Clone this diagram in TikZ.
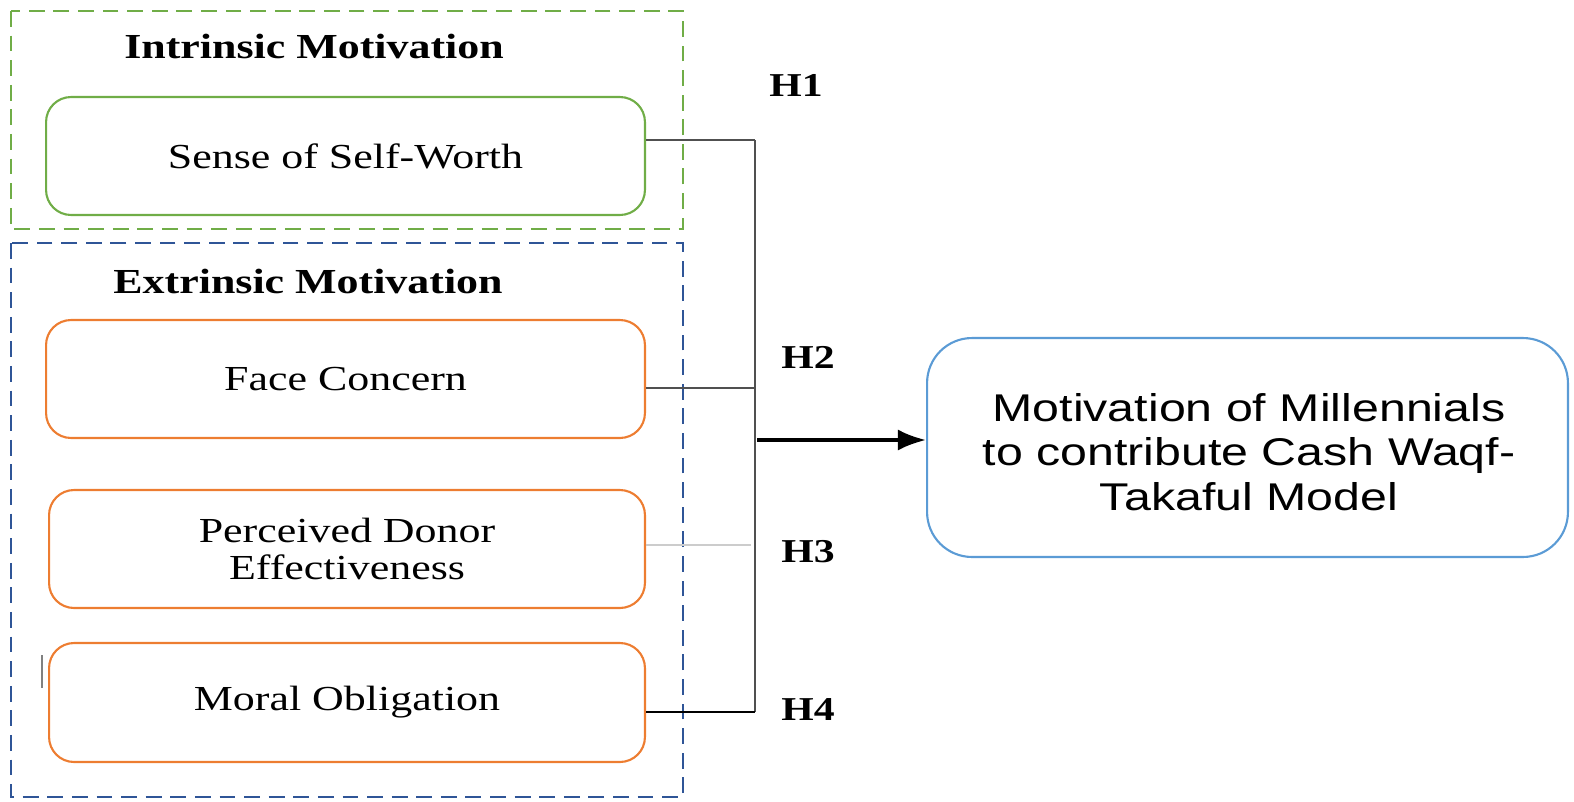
\documentclass[tikz,border=0pt]{standalone}
\usepackage{fontspec}
\setmainfont{Liberation Serif}[FakeStretch=1.25]
\newfontfamily\sansf{Liberation Sans}[FakeStretch=1.25]
\usetikzlibrary{arrows.meta}
\definecolor{cgreen}{HTML}{70AD47}
\definecolor{corange}{HTML}{ED7D31}
\definecolor{cdblue}{HTML}{2F5597}
\definecolor{clblue}{HTML}{5B9BD5}
\definecolor{cline}{HTML}{505050}
\begin{document}
\begin{tikzpicture}[x=0.02cm,y=-0.02cm,
  factor/.style={draw=corange,line width=1.2pt,rounded corners=0.5cm,
    minimum width=11.98cm,minimum height=2.36cm,align=center,inner sep=0pt,
    font=\fontsize{20}{21.5}\selectfont},
  groupbox/.style={line width=1.1pt,dash pattern=on 9pt off 5pt},
  grouptitle/.style={font=\fontsize{20}{24}\selectfont\bfseries},
  hlabel/.style={font=\fontsize{19}{22}\selectfont\bfseries},
  conn/.style={draw=cline,line width=0.8pt}]
\useasboundingbox (0,0) rectangle (1574,801);
% group frames
\draw[groupbox,draw=cgreen] (11,11) rectangle (683,229);
\draw[groupbox,draw=cdblue] (11,243) rectangle (683,797);
\node[grouptitle] (tin) at (314,46) {Intrinsic Motivation};
\node[grouptitle] (tex) at (308,281) {Extrinsic Motivation};
% factor boxes
\node[factor,draw=cgreen] (ssw) at (345.5,156) {Sense of Self-Worth};
\node[factor] (fc) at (345.5,379) {Face Concern};
\node[factor,minimum width=11.92cm] (pde) at (347,549) {Perceived Donor\\Effectiveness};
\node[factor,minimum width=11.92cm,minimum height=2.38cm] (mo) at (347,702.5) {Moral Obligation};
% target
\node[draw=clblue,line width=1.2pt,rounded corners=0.9cm,minimum width=12.82cm,
  minimum height=4.38cm,inner sep=0pt] (tg) at (1247.5,447.5) {};
\node[align=center,inner sep=0pt,font=\sansf\fontsize{22}{25.5}\selectfont] (tgt) at (1249,452)
  {Motivation of Millennials\\to contribute Cash Waqf-\\Takaful Model};
% junction coordinates
\coordinate (j1) at (755,140);
\coordinate (j2) at (755,388);
\coordinate (j3) at (751,545);
\coordinate (j4) at (755,712);
\coordinate (ar) at (757,440);
\coordinate (mk1) at (42,655);
\coordinate (mk2) at (42,688);
% connectors
\draw[conn] (j1) -- (j4);
\draw[conn] (ssw.east |- j1) -- (j1);
\draw[conn] (fc.east |- j2) -- (j2);
\draw[draw=black!20,line width=0.8pt] (pde.east |- j3) -- (j3);
\draw[draw=black,line width=1.2pt] (mo.east |- j4) -- (j4);
\draw[line width=2pt,-{Latex[length=16pt,width=12pt]}] (ar) -- (tg.west |- ar);
\draw[draw=black!50,line width=0.6pt] (mk1) -- (mk2);
% hypothesis labels
\node[hlabel] (h1) at (796,85) {H1};
\node[hlabel] (h2) at (808,357) {H2};
\node[hlabel] (h3) at (808,552) {H3};
\node[hlabel] (h4) at (808,710) {H4};
\end{tikzpicture}
\end{document}
